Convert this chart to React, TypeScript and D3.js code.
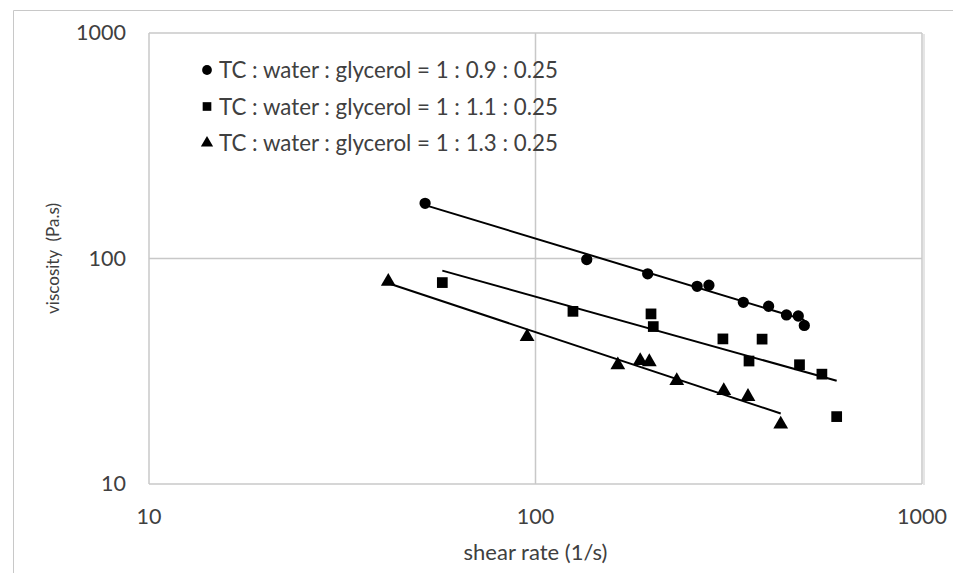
import React, { useEffect, useRef } from 'react';
import * as d3 from 'd3';

// shear rate (1/s) and viscosity (Pa.s)
const seriesNames = [
  'TC : water : glycerol = 1 : 0.9 : 0.25',
  'TC : water : glycerol = 1 : 1.1 : 0.25',
  'TC : water : glycerol = 1 : 1.3 : 0.25',
];
const rate09 = [51.8, 135.7, 195.1, 261.9, 281, 344.9, 401, 446, 478.5, 496];
const visc09 = [175.6, 99.0, 85.5, 75.3, 76.1, 63.9, 61.4, 56.2, 55.6, 50.5];
const rate11 = [57.4, 125, 199, 201.7, 305.4, 385.7, 356.8, 482, 550.8, 601.5];
const visc11 = [78.2, 58.3, 56.8, 49.9, 44.0, 43.9, 35.1, 33.8, 30.7, 19.9];
const rate13 = [41.6, 95.1, 163.3, 186.6, 197, 232, 307, 354.6, 431];
const visc13 = [79.0, 45.0, 33.7, 35.2, 34.8, 28.7, 25.9, 24.4, 18.4];
const xTicks = [10, 100, 1000];
const yTicks = [10, 100, 1000];

const symbols = [d3.symbolCircle, d3.symbolSquare, d3.symbolTriangle];
const symbolSizes = [100, 115, 95];

const W = 961;
const H = 581;
const margin = { left: 149, right: 39, top: 33, bottom: 97 };
const font = 'Lato, "Open Sans", sans-serif';
const textColor = '#404040';

// power-law trendline (least squares in log-log space), drawn over the data's own x range
function powerFit(xs: number[], ys: number[]) {
  const lx = xs.map(Math.log10);
  const ly = ys.map(Math.log10);
  const mx = d3.mean(lx)!;
  const my = d3.mean(ly)!;
  const b = d3.sum(lx, (v, i) => (v - mx) * (ly[i] - my)) / d3.sum(lx, (v) => (v - mx) ** 2);
  const a = my - b * mx;
  const [x0, x1] = d3.extent(xs) as [number, number];
  return [x0, x1].map((x) => [x, 10 ** (a + b * Math.log10(x))]);
}

function Chart() {
  const ref = useRef<SVGSVGElement>(null);

  useEffect(() => {
    const svg = d3.select(ref.current);
    svg.selectAll('*').remove();

    const x = d3.scaleLog().domain([10, 1000]).range([margin.left, W - margin.right]);
    const y = d3.scaleLog().domain([10, 1000]).range([H - margin.bottom, margin.top]);

    // chart outline
    svg
      .append('path')
      .attr('d', `M13.5,${H} V10.5 H${W}`)
      .attr('fill', 'none')
      .attr('stroke', '#c8c8c8');

    // gridlines
    const grid = svg.append('g').attr('stroke', '#c8c8c8').attr('stroke-width', 1.5);
    grid
      .selectAll('line.v')
      .data(xTicks)
      .join('line')
      .attr('x1', (d) => x(d))
      .attr('x2', (d) => x(d))
      .attr('y1', y(10))
      .attr('y2', y(1000));
    grid
      .selectAll('line.h')
      .data(yTicks)
      .join('line')
      .attr('class', 'h')
      .attr('x1', x(10))
      .attr('x2', x(1000))
      .attr('y1', (d) => y(d))
      .attr('y2', (d) => y(d));
    svg
      .append('line')
      .attr('x1', x(1000) + 2)
      .attr('x2', x(1000) + 2)
      .attr('y1', y(1000) + 1)
      .attr('y2', y(10) + 1)
      .attr('stroke', '#dcdcdc')
      .attr('stroke-width', 1.5);

    // tick labels
    svg
      .append('g')
      .selectAll('text')
      .data(xTicks)
      .join('text')
      .attr('x', (d) => x(d))
      .attr('y', y(10) + 40)
      .attr('text-anchor', 'middle')
      .attr('font-family', font)
      .attr('font-size', 21.5)
      .attr('fill', textColor)
      .text((d) => d);
    svg
      .append('g')
      .selectAll('text')
      .data(yTicks)
      .join('text')
      .attr('x', x(10) - 23)
      .attr('y', (d) => y(d) + 7)
      .attr('text-anchor', 'end')
      .attr('font-family', font)
      .attr('font-size', 21.5)
      .attr('fill', textColor)
      .text((d) => d);

    // axis titles
    svg
      .append('text')
      .attr('x', x(100))
      .attr('y', y(10) + 76)
      .attr('text-anchor', 'middle')
      .attr('font-family', font)
      .attr('font-size', 22)
      .attr('fill', textColor)
      .text('shear rate (1/s)');
    svg
      .append('text')
      .attr('transform', `translate(59,${y(100)}) rotate(-90)`)
      .attr('text-anchor', 'middle')
      .attr('font-family', font)
      .attr('font-size', 17)
      .attr('fill', textColor)
      .style('white-space', 'pre')
      .text('viscosity  (Pa.s)');

    const series = [
      [rate09, visc09],
      [rate11, visc11],
      [rate13, visc13],
    ];

    const line = d3
      .line<number[]>()
      .x((d) => x(d[0]))
      .y((d) => y(d[1]));

    series.forEach(([xs, ys], s) => {
      svg
        .append('path')
        .attr('d', line(powerFit(xs, ys)))
        .attr('fill', 'none')
        .attr('stroke', '#000')
        .attr('stroke-width', 2);
      svg
        .append('g')
        .selectAll('path')
        .data(xs.map((v, i) => [v, ys[i]]))
        .join('path')
        .attr('transform', (d) => `translate(${x(d[0])},${y(d[1])})`)
        .attr('d', d3.symbol(symbols[s], symbolSizes[s])())
        .attr('fill', '#000');
    });

    // legend
    const legend = svg.append('g').attr('transform', 'translate(207,70)');
    seriesNames.forEach((name, i) => {
      const row = legend.append('g').attr('transform', `translate(0,${i * 36.5})`);
      row
        .append('path')
        .attr('d', d3.symbol(symbols[i], [75, 75, 65][i])())
        .attr('fill', '#000');
      row
        .append('text')
        .attr('x', 12)
        .attr('y', 8)
        .attr('font-family', font)
        .attr('font-size', 22.3)
        .attr('fill', textColor)
        .text(name);
    });
  }, []);

  return <svg ref={ref} width={W} height={H} style={{ display: 'block' }} />;
}

export default function App() {
  return (
    <div style={{ margin: -8 }}>
      <Chart />
    </div>
  );
}
